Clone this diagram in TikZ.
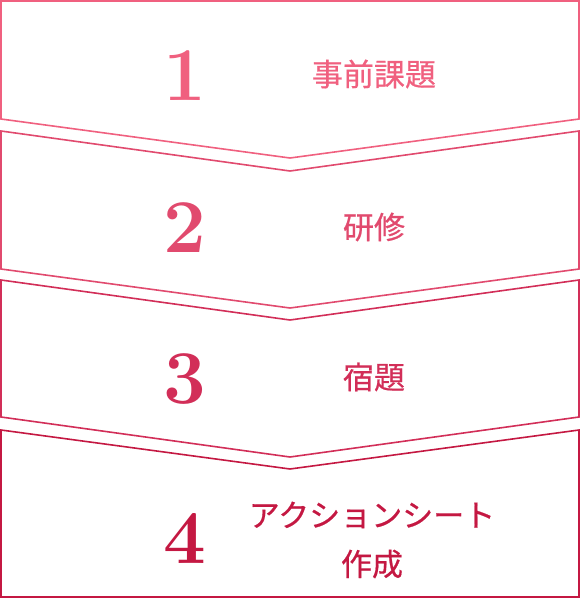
\documentclass[tikz,border=0pt]{standalone}
\usepackage{fontspec}
\newfontfamily\jpfont[FakeBold=0.6]{Noto Sans CJK JP}
\usepackage{tikz}
\usetikzlibrary{positioning}

\definecolor{stepA}{HTML}{F0607F}
\definecolor{stepB}{HTML}{E14A6E}
\definecolor{stepC}{HTML}{D22E58}
\definecolor{stepD}{HTML}{C41842}

\tikzset{
  stepbox/.style={line width=1.6pt,line join=miter},
  stepnum/.style={font=\fontsize{76}{76}\selectfont\bfseries,inner sep=0pt},
  steplabel/.style={font=\jpfont\fontsize{31}{36}\selectfont,inner sep=0pt}
}

\begin{document}
\begin{tikzpicture}[x=1pt,y=-1pt]
    \useasboundingbox (0,0) rectangle (580,598);

    % chevron boxes
    \draw[stepbox,stepA] (1,1) -- (579,1) -- (579,119) -- (290,158) -- (1,119) -- cycle;
    \draw[stepbox,stepB] (1,131) -- (290,171) -- (579,131) -- (579,269) -- (290,308) -- (1,269) -- cycle;
    \draw[stepbox,stepC] (1,280) -- (290,320) -- (579,280) -- (579,417) -- (290,457) -- (1,417) -- cycle;
    \draw[stepbox,stepD] (1,430) -- (290,469) -- (579,430) -- (579,597) -- (1,597) -- cycle;

    \node[stepnum,text=stepA]   (num1) at (185,76)  {1};
    \node[steplabel,text=stepA] (lab1) at (374,74)  {事前課題};
    \node[stepnum,text=stepB]   (num2) at (185,228) {2};
    \node[steplabel,text=stepB] (lab2) at (374,227) {研修};
    \node[stepnum,text=stepC]   (num3) at (185,379) {3};
    \node[steplabel,text=stepC] (lab3) at (374,377) {宿題};
    \node[stepnum,text=stepD]   (num4) at (185,538) {4};
    \node[steplabel,text=stepD] (lab4) at (372,515) {アクションシート};
    \node[steplabel,text=stepD] (lab5) at (372,564) {作成};

  \end{tikzpicture}
\end{document}
